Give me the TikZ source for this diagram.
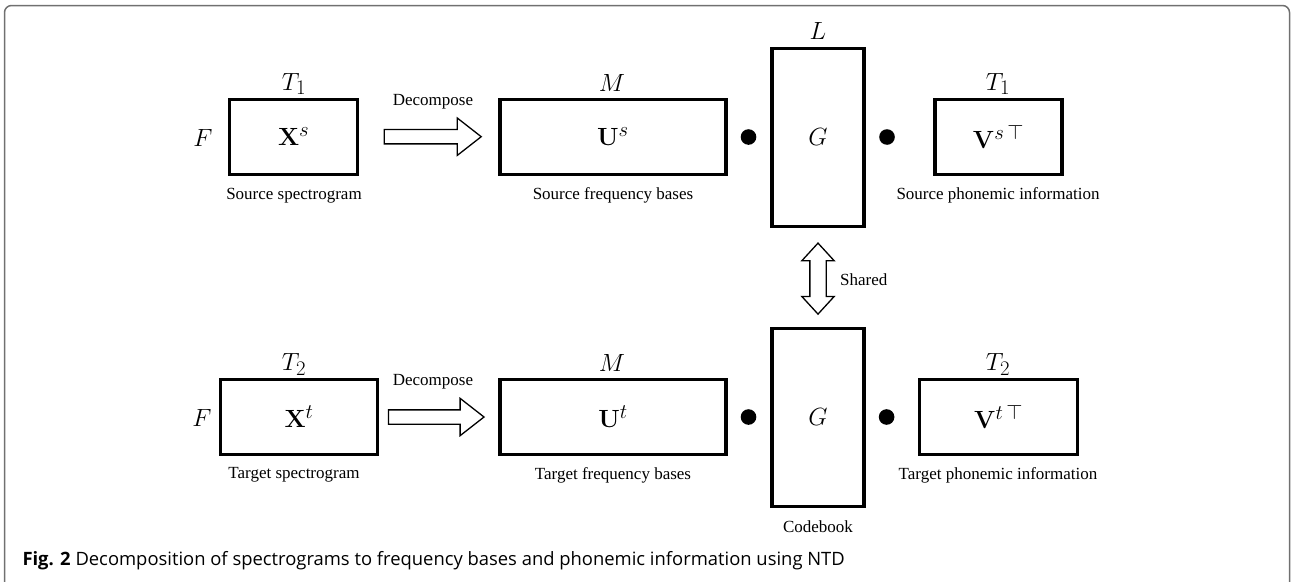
\documentclass[tikz,border=0pt]{standalone}
\usepackage[no-math]{fontspec}
\setmainfont{Liberation Serif}
\newfontfamily\capfont{Open Sans}
\usetikzlibrary{shapes.arrows,calc}
\definecolor{framegray}{RGB}{112,112,112}
\begin{document}
\begin{tikzpicture}[x=1pt,y=-1pt,
  mbox/.style={draw, rectangle, line width=3.2pt, inner sep=0pt, font=\fontsize{24.88}{28}\selectfont},
  ml/.style={anchor=base, inner sep=0pt, font=\fontsize{24.88}{28}\selectfont},
  txt/.style={anchor=base, inner sep=0pt, font=\fontsize{17}{20}\selectfont},
  dotnode/.style={circle, fill=black, inner sep=0pt, minimum size=15.6pt},
  bigarrow/.style={draw, line width=1.3pt, single arrow, single arrow head extend=11.5pt,
    single arrow tip angle=76, inner xsep=0pt, inner ysep=6.5pt, minimum height=97pt, outer sep=0pt, anchor=tail},
  dblarrow/.style={draw, line width=1.3pt, double arrow, double arrow head extend=8pt,
    double arrow tip angle=85, inner xsep=0pt, inner ysep=7.5pt, minimum height=71pt, outer sep=0pt, rotate=90},
  framestyle/.style={draw=framegray, line width=1.5pt, rounded corners=7pt}
]
\useasboundingbox (0,0) rectangle (1292,581);
\draw[framestyle] (4.5,620) -- (4.5,5.5) -- (1289.5,5.5) -- (1289.5,620);

% ---- top row (source)
\node[mbox, minimum width=128pt, minimum height=75pt] (Xs) at (293.6,136.7) {$\mathbf{X}^s$};
\node[mbox, minimum width=226pt, minimum height=75pt] (Us) at (613,136.7) {$\mathbf{U}^s$};
\node[mbox, minimum width=92pt, minimum height=178pt] (Gs) at (818,137.4) {$G$};
\node[mbox, minimum width=127pt, minimum height=75pt] (Vs) at (998.5,136.7) {$\mathbf{V}^{s\,\top}$};
\node[dotnode] (ds1) at (748.5,137) {};
\node[dotnode] (ds2) at (887,137) {};

\node[ml] (Fs) at (203,146.7) {$F$};
\node[ml] (T1a) at (294,90) {$T_1$};
\node[ml] (Ms) at (612,91.7) {$M$};
\node[ml] (Ls) at (818,39.3) {$L$};
\node[ml] (T1b) at (998,90) {$T_1$};

\node[txt] (ls1) at (294,199) {Source spectrogram};
\node[txt] (ls2) at (613,199) {Source frequency bases};
\node[txt] (ls3) at (998,199) {Source phonemic information};
\node[txt] (dec1) at (433,105) {Decompose};
\node[bigarrow] (a1) at ($(Xs.east)+(25,0)$) {};

% ---- bottom row (target)
\node[mbox, minimum width=157pt, minimum height=74.4pt] (Xt) at (299,417) {$\mathbf{X}^t$};
\node[mbox, minimum width=226pt, minimum height=74.4pt] (Ut) at (613,417) {$\mathbf{U}^t$};
\node[mbox, minimum width=92pt, minimum height=178pt] (Gt) at (818,417.4) {$G$};
\node[mbox, minimum width=157.5pt, minimum height=74.4pt] (Vt) at (998.5,417) {$\mathbf{V}^{t\,\top}$};
\node[dotnode] (dt1) at (748.5,417) {};
\node[dotnode] (dt2) at (886.6,417) {};

\node[ml] (Ft) at (202,426.7) {$F$};
\node[ml] (T2a) at (294,370.7) {$T_2$};
\node[ml] (Mt) at (612,371.5) {$M$};
\node[ml] (T2b) at (998,370.7) {$T_2$};

\node[txt] (lt1) at (294,478) {Target spectrogram};
\node[txt] (lt2) at (613,479) {Target frequency bases};
\node[txt] (lt3) at (998,479) {Target phonemic information};
\node[txt] (dec2) at (433,385) {Decompose};
\node[txt] (cb) at (818,532) {Codebook};
\node[bigarrow, minimum height=95.5pt] (a2) at ($(Xt.east)+(9.4,0)$) {};

% ---- shared
\node[dblarrow] (sh) at ($(Gs.south)!0.5!(Gt.north)+(0,1.2)$) {};
\node[txt, anchor=base west] (shl) at (840,285.7) {Shared};

% ---- caption
\node[anchor=base west, inner sep=0pt, font=\capfont\fontsize{18.4}{22}\selectfont] (cap) at (22.3,565)
  {\textbf{Fig. 2} Decomposition of spectrograms to frequency bases and phonemic information using NTD};
\end{tikzpicture}
\end{document}
